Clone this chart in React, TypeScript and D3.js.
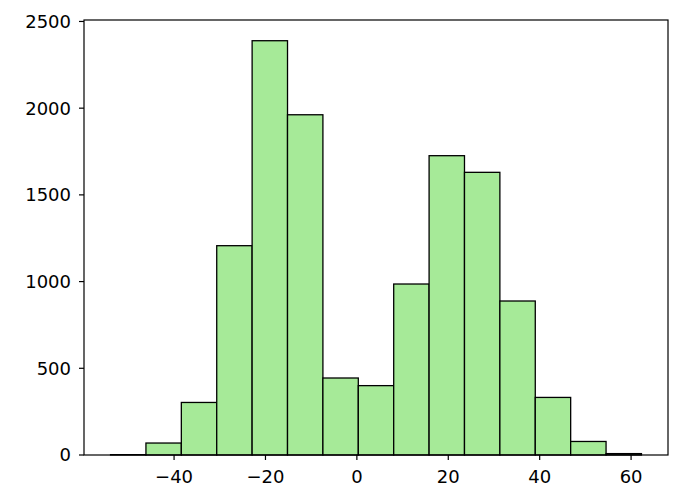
import React from "react";
import * as d3 from "d3";

const binStart = -53.9;
const binEnd = 62.27;
const counts = [2, 69, 303, 1207, 2389, 1962, 444, 400, 986, 1726, 1630, 888, 332, 78, 8];
const xTicks = [-40, -20, 0, 20, 40, 60];
const yTicks = [0, 500, 1000, 1500, 2000, 2500];

const W = 687;
const H = 500;
const left = 84;
const right = 668;
const top = 20;
const bottom = 455;

export default function App() {
  const n = counts.length;
  const step = (binEnd - binStart) / n;
  const edges = counts.map((_, i) => binStart + i * step);
  const span = binEnd - binStart;
  const x = d3
    .scaleLinear()
    .domain([binStart - span * 0.05, binEnd + span * 0.05])
    .range([left, right]);
  const ymax = (d3.max(counts) as number) * 1.05;
  const y = d3.scaleLinear().domain([0, ymax]).range([bottom, top]);
  const font = "'DejaVu Sans', sans-serif";
  const fmt = (v: number) => (v < 0 ? "\u2212" + Math.abs(v) : String(v));
  return (
    <svg
      width={W}
      height={H}
      style={{ position: "absolute", left: 0, top: 0, background: "#fff" }}
      fontFamily={font}
    >
      <rect x={0} y={0} width={W} height={H} fill="#fff" />
      {counts.map((c, i) => {
        const x0 = x(edges[i]);
        const x1 = x(edges[i] + step);
        return (
          <rect
            key={i}
            x={x0}
            y={y(c)}
            width={x1 - x0}
            height={y(0) - y(c)}
            fill="#a6ea98"
            stroke="#000"
            strokeWidth={1.3}
          />
        );
      })}
      <rect
        x={left}
        y={top}
        width={right - left}
        height={bottom - top}
        fill="none"
        stroke="#000"
        strokeWidth={1.2}
      />
      {xTicks.map((t) => (
        <g key={t} transform={`translate(${x(t)},${bottom})`}>
          <line y1={0} y2={5} stroke="#000" strokeWidth={1.2} />
          <text y={28} textAnchor="middle" fontSize={18} fill="#000">
            {fmt(t)}
          </text>
        </g>
      ))}
      {yTicks.map((t) => (
        <g key={t} transform={`translate(${left},${y(t)})`}>
          <line x1={0} x2={-5} stroke="#000" strokeWidth={1.2} />
          <text x={-13} dy="0.36em" textAnchor="end" fontSize={18} fill="#000">
            {t}
          </text>
        </g>
      ))}
    </svg>
  );
}
